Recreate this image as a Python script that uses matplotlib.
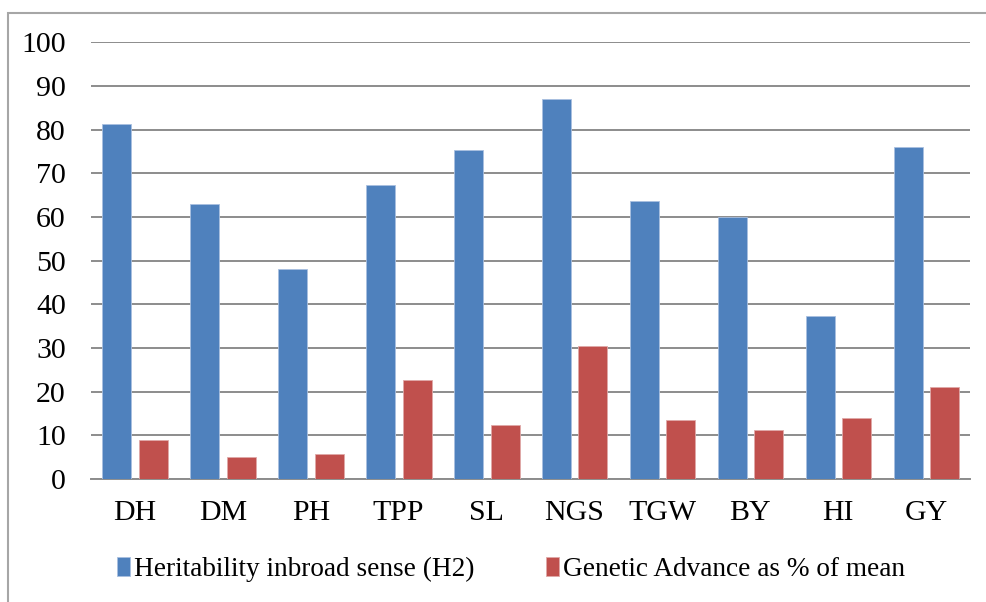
import matplotlib.pyplot as plt
import numpy as np
from matplotlib.patches import Rectangle

traits = ["DH", "DM", "PH", "TPP", "SL", "NGS", "TGW", "BY", "HI", "GY"]
heritability = [81.2, 63.0, 48.0, 67.3, 75.3, 87.1, 63.7, 60.0, 37.3, 76.0]
genetic_advance = [8.9, 5.0, 5.7, 22.7, 12.4, 30.5, 13.6, 11.2, 14.0, 21.1]
yticks = np.arange(0, 101, 10)

BLUE = '#4f81bd'
RED = '#c0504d'
GRID = '#8c8c8c'

plt.rcParams['font.family'] = ['Liberation Serif', 'DejaVu Serif']

fig = plt.figure(figsize=(9.87, 6.02), dpi=100)
W, H = 987, 602
ax = fig.add_axes([91 / W, 1 - 479 / H, (970 - 91) / W, (479 - 42.3) / H])

x = np.arange(len(traits))
width = 0.33
b1 = ax.bar(x - 0.205, heritability, width, color=BLUE, edgecolor='#a9c0e0', linewidth=0.6,
            label="Heritability inbroad sense (H2)", zorder=3)
b2 = ax.bar(x + 0.21, genetic_advance, width, color=RED, edgecolor='#e0a9a8', linewidth=0.6,
            label="Genetic Advance as % of mean", zorder=3)

ax.set_xlim(-0.5, len(traits) - 0.5)
ax.set_ylim(0, 100)
ax.set_yticks(yticks)
ax.set_xticks(x)
ax.set_xticklabels(traits)
ax.tick_params(axis='y', length=0, pad=18, labelsize=21.5, colors='black')
ax.tick_params(axis='x', length=0, pad=15, labelsize=21.5, colors='black')
ax.yaxis.grid(True, color=GRID, linewidth=1.4, zorder=0)
for s in ['top', 'right', 'left']:
    ax.spines[s].set_visible(False)
ax.spines['bottom'].set_color(GRID)
ax.spines['bottom'].set_linewidth(1.4)

leg = fig.legend(handles=[b1, b2], loc='center', bbox_to_anchor=(511 / W, 1 - 569 / H),
                 ncol=2, frameon=False, fontsize=19.6, handlelength=0.5, handleheight=0.7,
                 handletextpad=0.15, columnspacing=2.6)

# outer chart border
fig.patches.append(Rectangle((8 / W, -0.05), 1.1, 1 - 13 / H + 0.05, transform=fig.transFigure,
                             fill=False, edgecolor='#a6a6a6', linewidth=1.5))

fig.savefig('out.png', dpi=100)
